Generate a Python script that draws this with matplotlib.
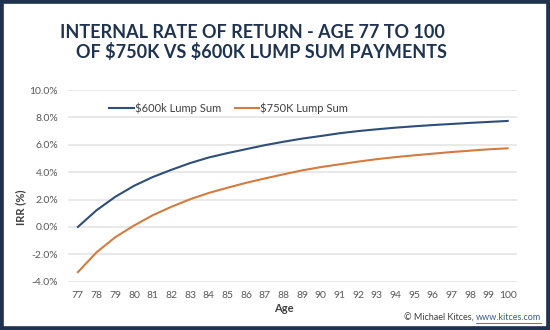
import matplotlib
matplotlib.use("Agg")
import matplotlib.pyplot as plt
from matplotlib.patches import Rectangle
from matplotlib.ticker import FuncFormatter

ages = list(range(77, 101))
irr_600k = [0.00, 1.22, 2.20, 3.00, 3.64, 4.17, 4.66, 5.07, 5.39, 5.68, 5.97, 6.22,
            6.45, 6.64, 6.84, 7.00, 7.13, 7.25, 7.35, 7.44, 7.52, 7.60, 7.67, 7.74]
irr_750k = [-3.30, -1.85, -0.75, 0.10, 0.85, 1.47, 2.02, 2.48, 2.86, 3.22, 3.54, 3.84,
            4.13, 4.37, 4.57, 4.77, 4.95, 5.10, 5.23, 5.35, 5.47, 5.57, 5.67, 5.74]
series_labels = ["$600k Lump Sum", "$750K Lump Sum"]
y_ticks = [-4, -2, 0, 2, 4, 6, 8, 10]
title_lines = ["INTERNAL RATE OF RETURN - AGE 77 TO 100",
               "OF \\$750K VS \\$600K LUMP SUM PAYMENTS"]

NAVY = "#1f3350"
BLUE = "#2f4f78"
ORANGE = "#d47b3f"
TXT = "#595959"
FONT = "Lato"

W, H = 550, 330
fig = plt.figure(figsize=(5.5, 3.3), dpi=100)
fig.patch.set_facecolor("white")

# border
fig.add_artist(Rectangle((0, 0), 1, 1, transform=fig.transFigure, fill=False,
                         edgecolor=NAVY, linewidth=5.5, zorder=10))

ax = fig.add_axes([68 / W, (H - 281.7) / H, (517 - 68) / W, (281.7 - 90) / H])
ax.plot(ages, irr_600k, color=BLUE, linewidth=1.5, label=series_labels[0])
ax.plot(ages, irr_750k, color=ORANGE, linewidth=1.5, label=series_labels[1])

ax.set_xlim(76.47, 100.5)
ax.set_ylim(-4, 10)
ax.set_yticks(y_ticks)
ax.set_xticks(ages)
ax.yaxis.set_major_formatter(FuncFormatter(lambda v, p: f"{v:.1f}%"))
for s in ax.spines.values():
    s.set_visible(False)
ax.grid(axis="y", color="#e3e3e3", linewidth=1.1)
ax.set_axisbelow(True)
ax.tick_params(length=0, labelsize=7.5, labelcolor=TXT, pad=7)
for lab in ax.get_xticklabels() + ax.get_yticklabels():
    lab.set_fontfamily(FONT)

leg = ax.legend(loc="upper left", bbox_to_anchor=(0.07, 0.985), ncol=2, frameon=False,
                handlelength=2.2, handletextpad=0.1, columnspacing=1.2,
                prop={"family": FONT, "size": 8})
for t in leg.get_texts():
    t.set_color("#404040")

fig.text(252 / W, 1 - 32 / H, title_lines[0], ha="center", va="center",
         fontsize=13, fontweight="bold", color=NAVY, family=FONT)
fig.text(261 / W, 1 - 52 / H, title_lines[1], ha="center", va="center",
         fontsize=13, fontweight="bold", color=NAVY, family=FONT)

fig.text(284 / W, 1 - 308 / H, "Age", ha="center", va="center",
         fontsize=8, fontweight="bold", color="#404040", family=FONT)
fig.text(21 / W, 1 - 207 / H, "IRR (%)", ha="center", va="center", rotation=90,
         fontsize=8, fontweight="bold", color="#404040", family=FONT)

t2 = fig.text(541 / W, 1 - 318 / H, "www.kitces.com", ha="right", va="center",
              fontsize=6.5, color="#3b5d8f", family=FONT)
t2.set_url("https://www.kitces.com")
fig.canvas.draw()
bb = t2.get_window_extent()
x0 = bb.x0 / W
fig.add_artist(plt.Line2D([bb.x0 / W, bb.x1 / W], [(bb.y0 - 0.5) / H] * 2,
                          color="#3b5d8f", linewidth=0.6, transform=fig.transFigure))
fig.text(x0, 1 - 318 / H, "\u00a9 Michael Kitces, ", ha="right", va="center",
         fontsize=6.5, color="#404040", family=FONT)

fig.savefig("out.png", dpi=100)
